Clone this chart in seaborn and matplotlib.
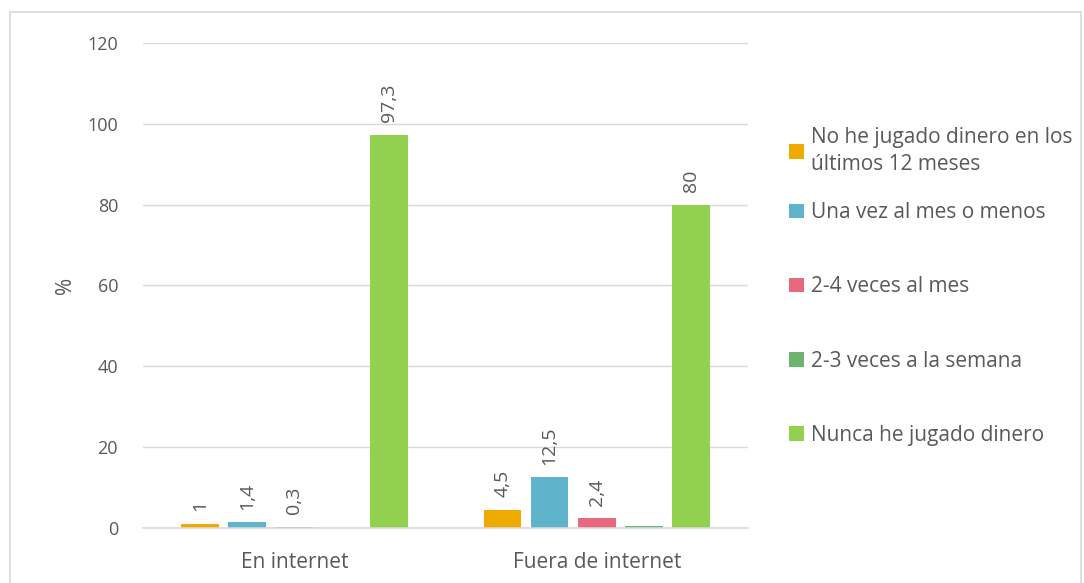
import pandas as pd
import matplotlib.pyplot as plt
import seaborn as sns
from matplotlib.patches import Rectangle

grupos = ["En internet", "Fuera de internet"]
series = ["No he jugado dinero en los\núltimos 12 meses",
          "Una vez al mes o menos",
          "2-4 veces al mes",
          "2-3 veces a la semana",
          "Nunca he jugado dinero"]
colores = ["#F0AB00", "#5FB4CC", "#E8697D", "#6BB56E", "#92D050"]

en_internet = [1, 1.4, 0.3, 0, 97.3]
fuera_internet = [4.5, 12.5, 2.4, 0.4, 80]
# etiquetas que se muestran encima de cada barra
etiquetas_en = ["1", "1,4", "0,3", "", "97,3"]
etiquetas_fuera = ["4,5", "12,5", "2,4", "", "80"]

rows = []
for s, a, b in zip(series, en_internet, fuera_internet):
    rows.append({"grupo": grupos[0], "serie": s, "valor": a})
    rows.append({"grupo": grupos[1], "serie": s, "valor": b})
df = pd.DataFrame(rows)

sns.set_theme(style="white")
plt.rcParams['font.family'] = ['Open Sans', 'DejaVu Sans']
gris = "#595959"

fig = plt.figure(figsize=(10.84, 5.83), dpi=100)
ax = fig.add_axes([0.132, 0.0943, 0.558, 0.832])

sns.barplot(data=df, x="grupo", y="valor", hue="serie", order=grupos,
            hue_order=series, palette=colores, width=0.78, gap=0.2,
            saturation=1, ax=ax, linewidth=0)

for cont, a, b in zip(ax.containers, etiquetas_en, etiquetas_fuera):
    ax.bar_label(cont, labels=[a, b], rotation=90, padding=9,
                 fontsize=14, color=gris)

ax.set_ylim(0, 120)
ax.set_yticks(range(0, 121, 20))
ax.set_xlim(-0.5, 1.5)
ax.yaxis.grid(True, color="#D9D9D9", linewidth=1)
ax.set_axisbelow(True)
for sp in ["top", "right", "left"]:
    ax.spines[sp].set_visible(False)
ax.spines["bottom"].set_color("#D9D9D9")
ax.spines["bottom"].set_linewidth(1.2)
ax.tick_params(axis="y", length=0, pad=18, labelsize=13, labelcolor=gris)
ax.tick_params(axis="x", length=0, pad=17, labelsize=15, labelcolor=gris)
ax.set_xlabel("")
ax.set_ylabel("%", fontsize=15, color=gris, labelpad=8)

# leyenda en dos partes: la primera entrada ocupa dos lineas
handles, labels = ax.get_legend_handles_labels()
ley_kw = dict(loc="center left", frameon=False, fontsize=15, labelcolor=gris,
              handlelength=0.7, handleheight=0.7, handletextpad=0.35,
              borderaxespad=0, borderpad=0,
              bbox_transform=fig.transFigure)
ley1 = ax.legend(handles[:1], labels[:1],
                 bbox_to_anchor=(789 / 1084, 1 - 151 / 583), **ley_kw)
for t in ley1.get_texts():
    t.set_linespacing(1.35)
ax.add_artist(ley1)
ax.legend(handles[1:], labels[1:], labelspacing=2.55,
          bbox_to_anchor=(789 / 1084, 1 - 324 / 583), **ley_kw)

fig.patches.append(Rectangle((10 / 1084, -0.05), 1071 / 1084, 1.05 - 12 / 583,
                             transform=fig.transFigure, fill=False,
                             edgecolor="#D9D9D9", linewidth=1.2))

fig.savefig("out.png", dpi=100)
